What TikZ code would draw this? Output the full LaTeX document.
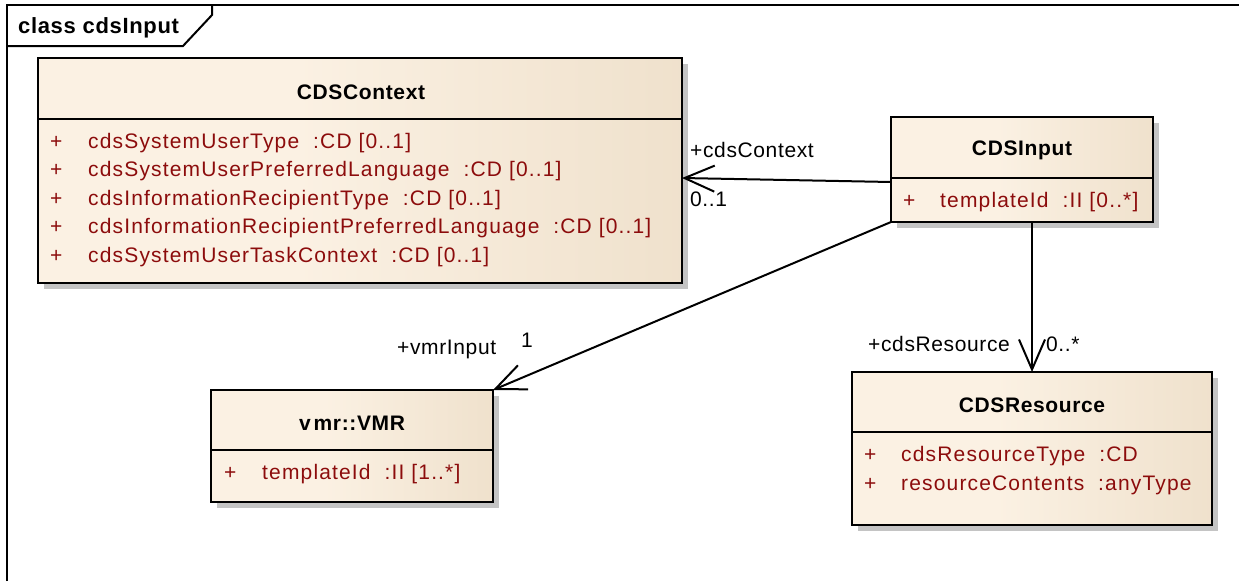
\documentclass[tikz,border=0pt]{standalone}
\usepackage{fontspec}
\setmainfont{Liberation Sans}
\newfontfamily\attrfont[LetterSpace=5.5]{Liberation Sans}
\newfontfamily\lblfont[LetterSpace=3]{Liberation Sans}
\usetikzlibrary{arrows.meta,shadows}
\definecolor{attrred}{RGB}{140,12,12}
\definecolor{shadowgray}{RGB}{196,196,196}
\definecolor{beigeL}{RGB}{238,224,203}
\definecolor{beigeM}{RGB}{251,241,227}
\definecolor{beigeR}{RGB}{232,215,190}
\pgfdeclarehorizontalshading{umlshade}{100bp}{color(0bp)=(beigeL); color(6bp)=(beigeL); color(10bp)=(beigeM); color(45bp)=(beigeM); color(94bp)=(beigeR); color(100bp)=(beigeR)}
\begin{document}
\begin{tikzpicture}[x=1pt,y=-1pt,
  cls/.style={draw=black, line width=2.2pt, shading=umlshade,
    drop shadow={shadow xshift=6pt, shadow yshift=-6pt, fill=shadowgray, opacity=1},
    inner sep=0pt, outer sep=0pt},
  ctitle/.style={font=\lblfont\fontsize{21}{24}\selectfont\bfseries, inner sep=0pt},
  attr/.style={font=\attrfont\fontsize{21}{24}\selectfont, text=attrred, anchor=base west, inner sep=0pt},
  lbl/.style={font=\lblfont\fontsize{21}{24}\selectfont, anchor=base west, inner sep=0pt},
  assoc/.style={line width=2pt, -{Straight Barb[length=30pt,width=26pt,line width=2pt]}},
  sep/.style={line width=2.2pt},
  frameline/.style={line width=2pt}]
\useasboundingbox (0,0) rectangle (1239,581);
% frame
\draw[frameline] (7,581) -- (7,5) -- (1239,5);
\draw[frameline] (7,46) -- (183,46) -- (212,15) -- (212,5);
\node[font=\lblfont\fontsize{22}{24}\selectfont\bfseries, anchor=base west, inner sep=0pt] (title) at (18,33) {class cdsInput};

% CDSContext
\node[cls, minimum width=644pt, minimum height=225pt] (ctx) at (360,170.5) {};
\draw[sep] (ctx.west |- 0,119) -- (ctx.east |- 0,119);
\node[ctitle] (ctxt) at (361,92) {CDSContext};
\foreach \i/\t in {0/{cdsSystemUserType\ \ :CD [0..1]},1/{cdsSystemUserPreferredLanguage\ \ :CD [0..1]},2/{cdsInformationRecipientType\ \ :CD [0..1]},3/{cdsInformationRecipientPreferredLanguage\ \ :CD [0..1]},4/{cdsSystemUserTaskContext\ \ :CD [0..1]}}{
  \node[attr] (ctxp\i) at (50,148+28.6*\i) {+};
  \node[attr] (ctxa\i) at (88,148+28.6*\i) {\t};
}

% CDSInput
\node[cls, minimum width=262pt, minimum height=105pt] (inp) at (1022,169.5) {};
\draw[sep] (inp.west |- 0,178) -- (inp.east |- 0,178);
\node[ctitle] (inpt) at (1022,150) {CDSInput};
\node[attr] (inpp) at (903,207) {+};
\node[attr] (inpa) at (940,207) {templateId\ \ :II [0..*]};

% vmr::VMR
\node[cls, minimum width=282pt, minimum height=112pt] (vmr) at (352,446) {};
\draw[sep] (vmr.west |- 0,450) -- (vmr.east |- 0,450);
\node[ctitle] (vmrt) at (352,423) {v\kern3pt mr::VMR};
\node[attr] (vmrp) at (224,479) {+};
\node[attr] (vmra) at (262,479) {templateId\ \ :II [1..*]};

% CDSResource
\node[cls, minimum width=360pt, minimum height=153pt] (res) at (1032,448.5) {};
\draw[sep] (res.west |- 0,432) -- (res.east |- 0,432);
\node[ctitle] (rest) at (1032,405) {CDSResource};
\node[attr] (resp0) at (864,461) {+};
\node[attr] (resa0) at (901,461) {cdsResourceType\ \ :CD};
\node[attr] (resp1) at (864,490) {+};
\node[attr] (resa1) at (901,490) {resourceContents\ \ :anyType};

% associations
\draw[assoc] (inp.west |- 0,182) -- (ctx.east |- 0,178);
\node[lbl] (l1) at (690,157) {+cdsContext};
\node[lbl] (l2) at (690,206) {0..1};
\draw[assoc] (inp.south west) -- (vmr.north east);
\node[lbl] (l3) at (397,354) {+vmrInput};
\node[lbl] (l4) at (521,347) {1};
\draw[assoc] (res.north |- inp.south) -- (res.north);
\node[lbl] (l5) at (868,351) {+cdsResource};
\node[lbl] (l6) at (1046,351) {0..*};
\end{tikzpicture}
\end{document}
